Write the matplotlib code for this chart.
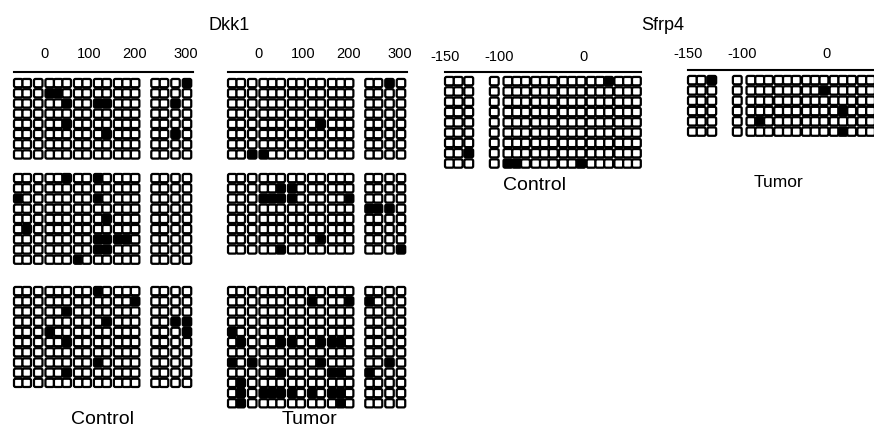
import matplotlib
matplotlib.use('Agg')
import matplotlib.pyplot as plt
from matplotlib.patches import FancyBboxPatch

# Methylated CpG sites (index) per sequenced clone
# Dkk1: 17 CpGs, groups 2,1,3,2,2,3 | 2,1,1
dkk1_groups = [2, 1, 3, 2, 2, 3, 2, 1, 1]
dkk1_control_1 = [[16], [3, 4], [5, 8, 9, 15], [], [5], [9, 15], [], []]
dkk1_control_2 = [[5, 8], [], [0, 8], [], [9], [1], [8, 9, 10, 11], [8, 9], [6]]
dkk1_control_3 = [[8], [12], [5], [9, 15, 16], [3, 16], [5], [], [8], [5], []]
dkk1_tumor_1 = [[15], [], [], [], [9], [], [], [2, 3]]
dkk1_tumor_2 = [[], [5, 6], [3, 4, 5, 6, 12], [13, 14, 15], [], [], [9], [5, 16]]
dkk1_tumor_3 = [[], [8, 12, 13], [], [], [0], [1, 5, 6, 9, 10, 11], [],
                [0, 2, 9, 15], [5, 10, 11, 13], [1], [1, 3, 4, 5, 6, 8, 10, 11], [1, 11]]
dkk1_ticks = [0, 100, 200, 300]

# Sfrp4: 19 CpGs, groups 2,1 | 1,3,3,3,3,3
sfrp4_groups = [2, 1, 1, 3, 3, 3, 3, 3]
sfrp4_control = [[15], [], [], [], [], [], [], [2], [4, 5, 12]]
sfrp4_tumor = [[2], [12], [], [14], [5], [14]]
sfrp4_ticks = [-150, -100, 0]

W, H = 874, 429
plt.rcParams['font.family'] = ['Liberation Sans', 'DejaVu Sans']
fig = plt.figure(figsize=(W / 100, H / 100), dpi=100)


def cpg_x(groups, gaps):
    # left edge of each CpG box, gaps = space after each group
    xs, x = [], 0.0
    for n, g in zip(groups, gaps + [0]):
        for k in range(n):
            xs.append(x)
            x += 1
        x += g
    return xs


def block(left, top, unit, row, xs, clones, pad=0.0, box_h=0.64, width=None):
    # one axes per block of clones, placed in pixels
    n = len(clones)
    w = (width if width else xs[-1] + 1) * unit
    h = (n + pad) * row
    ax = fig.add_axes([left / W, 1 - (top - pad * row + h) / H, w / W, h / H])
    ax.set_xlim(0, w / unit)
    ax.set_ylim(n, -pad)
    for i, meth in enumerate(clones):
        for j, x in enumerate(xs):
            ax.add_patch(FancyBboxPatch((x + 0.1, i + 0.08), 0.8, box_h,
                                        boxstyle='round,pad=0.1,rounding_size=0.18',
                                        mutation_aspect=unit / row,
                                        lw=1.6, ec='black',
                                        fc='black' if j in meth else 'white', clip_on=False))
    for s in ax.spines.values():
        s.set_visible(False)
    ax.set_xticks([])
    ax.set_yticks([])
    return ax


def top_axis(ax, pos, labels, pad):
    ax.spines['top'].set_visible(True)
    ax.spines['top'].set_linewidth(1.5)
    ax.xaxis.tick_top()
    ax.set_xticks(pos)
    ax.set_xticklabels([str(t) for t in labels], fontsize=10.5)
    ax.tick_params(axis='x', length=0, pad=pad)


# Dkk1
dx = cpg_x(dkk1_groups, [0.35, 0.35, 0.35, 0.35, 0.35, 1.4, 0.35, 0.35])
dkk1_pos = [3.6, 8.8, 14.15, 20.2]
for left, blocks in [(14, [dkk1_control_1, dkk1_control_2, dkk1_control_3]),
                     (228, [dkk1_tumor_1, dkk1_tumor_2, dkk1_tumor_3])]:
    a1 = block(left, 79, 8.5, 10.2, dx, blocks[0], pad=0.7, width=21.0)
    top_axis(a1, dkk1_pos, dkk1_ticks, 8)
    block(left, 174, 8.5, 10.2, dx, blocks[1], width=21.0)
    block(left, 287, 8.5, 10.2, dx, blocks[2], width=21.0)

# Sfrp4
sx = cpg_x(sfrp4_groups, [0.2, 1.9, 0.55, 0.15, 0.15, 0.15, 0.15])
sfrp4_pos = [0, 6.14, 15.7]
a = block(445, 77, 8.8, 10.3, sx, sfrp4_control, pad=0.45, width=22.3)
top_axis(a, sfrp4_pos, sfrp4_ticks, 6)
a = block(688, 76, 8.8, 10.3, sx, sfrp4_tumor, pad=0.6, width=22.3)
top_axis(a, sfrp4_pos, sfrp4_ticks, 6)

# Labels
fig.text(229 / W, 1 - 25 / H, 'Dkk1', ha='center', va='center', fontsize=13)
fig.text(663 / W, 1 - 25 / H, 'Sfrp4', ha='center', va='center', fontsize=13)
fig.text(103 / W, 1 - 420 / H, 'Control', ha='center', va='center', fontsize=14)
fig.text(310 / W, 1 - 420 / H, 'Tumor', ha='center', va='center', fontsize=14)
fig.text(534 / W, 1 - 186 / H, 'Control', ha='center', va='center', fontsize=14)
fig.text(778 / W, 1 - 182 / H, 'Tumor', ha='center', va='center', fontsize=12.5)

plt.savefig('out.png', dpi=100)
